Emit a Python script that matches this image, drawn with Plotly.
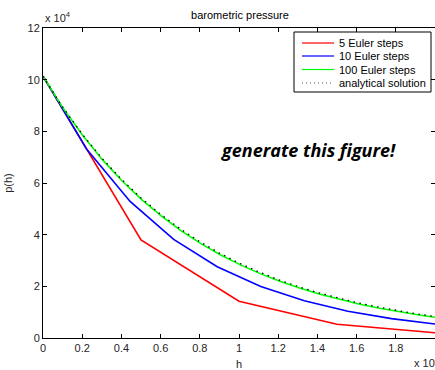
import plotly.graph_objects as go

# ---- data ----
h_5 = [0, 5000, 10000, 15000, 20000]
p_5 = [101325, 37997, 14249, 5343, 2004]

h_10 = [0, 2222, 4444, 6667, 8889, 11111, 13333, 15556, 17778, 20000]
p_10 = [101325, 73179, 52852, 38171, 27568, 19910, 14380, 10385, 7500, 5417]

h_100 = [0, 1010, 2020, 3030, 4040, 5051, 6061, 7071, 8081, 9091, 10101,
         11111, 12121, 13131, 14141, 15152, 16162, 17172, 18182, 19192, 20000]
p_100 = [101325, 89161, 78458, 69039, 60751, 53459, 47041, 41394, 36425, 32052, 28205,
         24819, 21840, 19217, 16911, 14881, 13094, 11523, 10140, 8923, 8055]

h_an = [0, 1000, 2000, 3000, 4000, 5000, 6000, 7000, 8000, 9000, 10000,
        11000, 12000, 13000, 14000, 15000, 16000, 17000, 18000, 19000, 20000]
p_an = [101325, 89420, 78912, 69640, 61457, 54235, 47863, 42239, 37275, 32895, 29030,
        25619, 22609, 19952, 17608, 15538, 13713, 12101, 10680, 9424, 8317]

series_names = ["5 Euler steps", "10 Euler steps", "100 Euler steps", "analytical solution"]
series_colors = ["#ff0000", "#0000ff", "#00ff00", "black"]

x_tickvals = [0, 2000, 4000, 6000, 8000, 10000, 12000, 14000, 16000, 18000, 20000]
x_ticktext = ["0", "0.2", "0.4", "0.6", "0.8", "1", "1.2", "1.4", "1.6", "1.8", "2"]
y_tickvals = [0, 20000, 40000, 60000, 80000, 100000, 120000]
y_ticktext = ["0", "2", "4", "6", "8", "10", "12"]

FONT = "Liberation Sans, Arial, sans-serif"
TXT = "#262626"

W, H = 435, 370
ML, MR, MT, MB = 43, 0, 28, 32
PW, PH = W - ML - MR, H - MT - MB


def px(xp):
    return (xp - ML) / PW


def py(yp):
    return (H - MB - yp) / PH


fig = go.Figure()
data = [(h_5, p_5), (h_10, p_10), (h_100, p_100), (h_an, p_an)]
for i, (hx, pv) in enumerate(data):
    dash = "1.5px,4.5px" if i == 3 else "solid"
    width = 1.3 if i == 3 else 1.6
    fig.add_trace(go.Scatter(x=hx, y=pv, mode="lines", name=series_names[i],
                             showlegend=False,
                             line=dict(color=series_colors[i], width=width, dash=dash)))

axis_common = dict(showline=True, linecolor="black", linewidth=1, mirror="ticks",
                   ticks="inside", ticklen=4, tickcolor="black", showgrid=False,
                   zeroline=False, tickfont=dict(family=FONT, size=11, color=TXT))

fig.update_xaxes(range=[0, 20000], tickmode="array", tickvals=x_tickvals,
                 ticktext=x_ticktext, title=dict(text="h", standoff=8,
                 font=dict(family=FONT, size=11, color=TXT)), **axis_common)
fig.update_yaxes(range=[0, 120000], tickmode="array", tickvals=y_tickvals,
                 ticktext=y_ticktext, title=dict(text="p(h)", standoff=12,
                 font=dict(family=FONT, size=11, color=TXT)), **axis_common)

shapes = []
annotations = []
# manual legend box
shapes.append(dict(type="rect", xref="paper", yref="paper",
                   x0=px(294), x1=px(431), y0=py(92), y1=py(32),
                   line=dict(color="black", width=1), fillcolor="white", layer="above"))
rows = [43, 56, 69.5, 83]
for i, ry in enumerate(rows):
    dash = "1px,3px" if i == 3 else "solid"
    col = "#555555" if i == 3 else series_colors[i]
    shapes.append(dict(type="line", xref="paper", yref="paper",
                       x0=px(302), x1=px(334), y0=py(ry), y1=py(ry),
                       line=dict(color=col, width=1.2 if i < 3 else 1, dash=dash),
                       layer="above"))
    annotations.append(dict(text=series_names[i], xref="paper", yref="paper",
                            x=px(337), y=py(ry), xanchor="left", yanchor="middle",
                            showarrow=False,
                            font=dict(family=FONT, size=11, color="black")))

annotations += [
    dict(text="x 10<sup>4</sup>", xref="paper", yref="paper", x=0, y=1.0,
         xanchor="left", yanchor="bottom", showarrow=False, yshift=2,
         font=dict(family=FONT, size=11, color=TXT)),
    dict(text="x 10<sup>4</sup>", xref="paper", yref="paper", x=px(412), y=0,
         xanchor="left", yanchor="top", showarrow=False, yshift=-15,
         font=dict(family=FONT, size=11, color=TXT)),
    dict(text="<b><i>generate this figure!</i></b>", xref="paper", yref="paper",
         x=px(308), y=py(150), xanchor="center", yanchor="middle", showarrow=False,
         font=dict(family="Open Sans, Lato, sans-serif", size=18, color="black")),
]

fig.update_layout(
    width=W, height=H,
    margin=dict(l=ML, r=MR, t=MT, b=MB),
    paper_bgcolor="white", plot_bgcolor="white",
    title=dict(text="barometric pressure", x=240 / W, xanchor="center",
               y=1 - 15 / H, yanchor="middle",
               font=dict(family=FONT, size=11, color="black")),
    showlegend=False,
    shapes=shapes,
    annotations=annotations,
)

fig.write_html("out.html")
